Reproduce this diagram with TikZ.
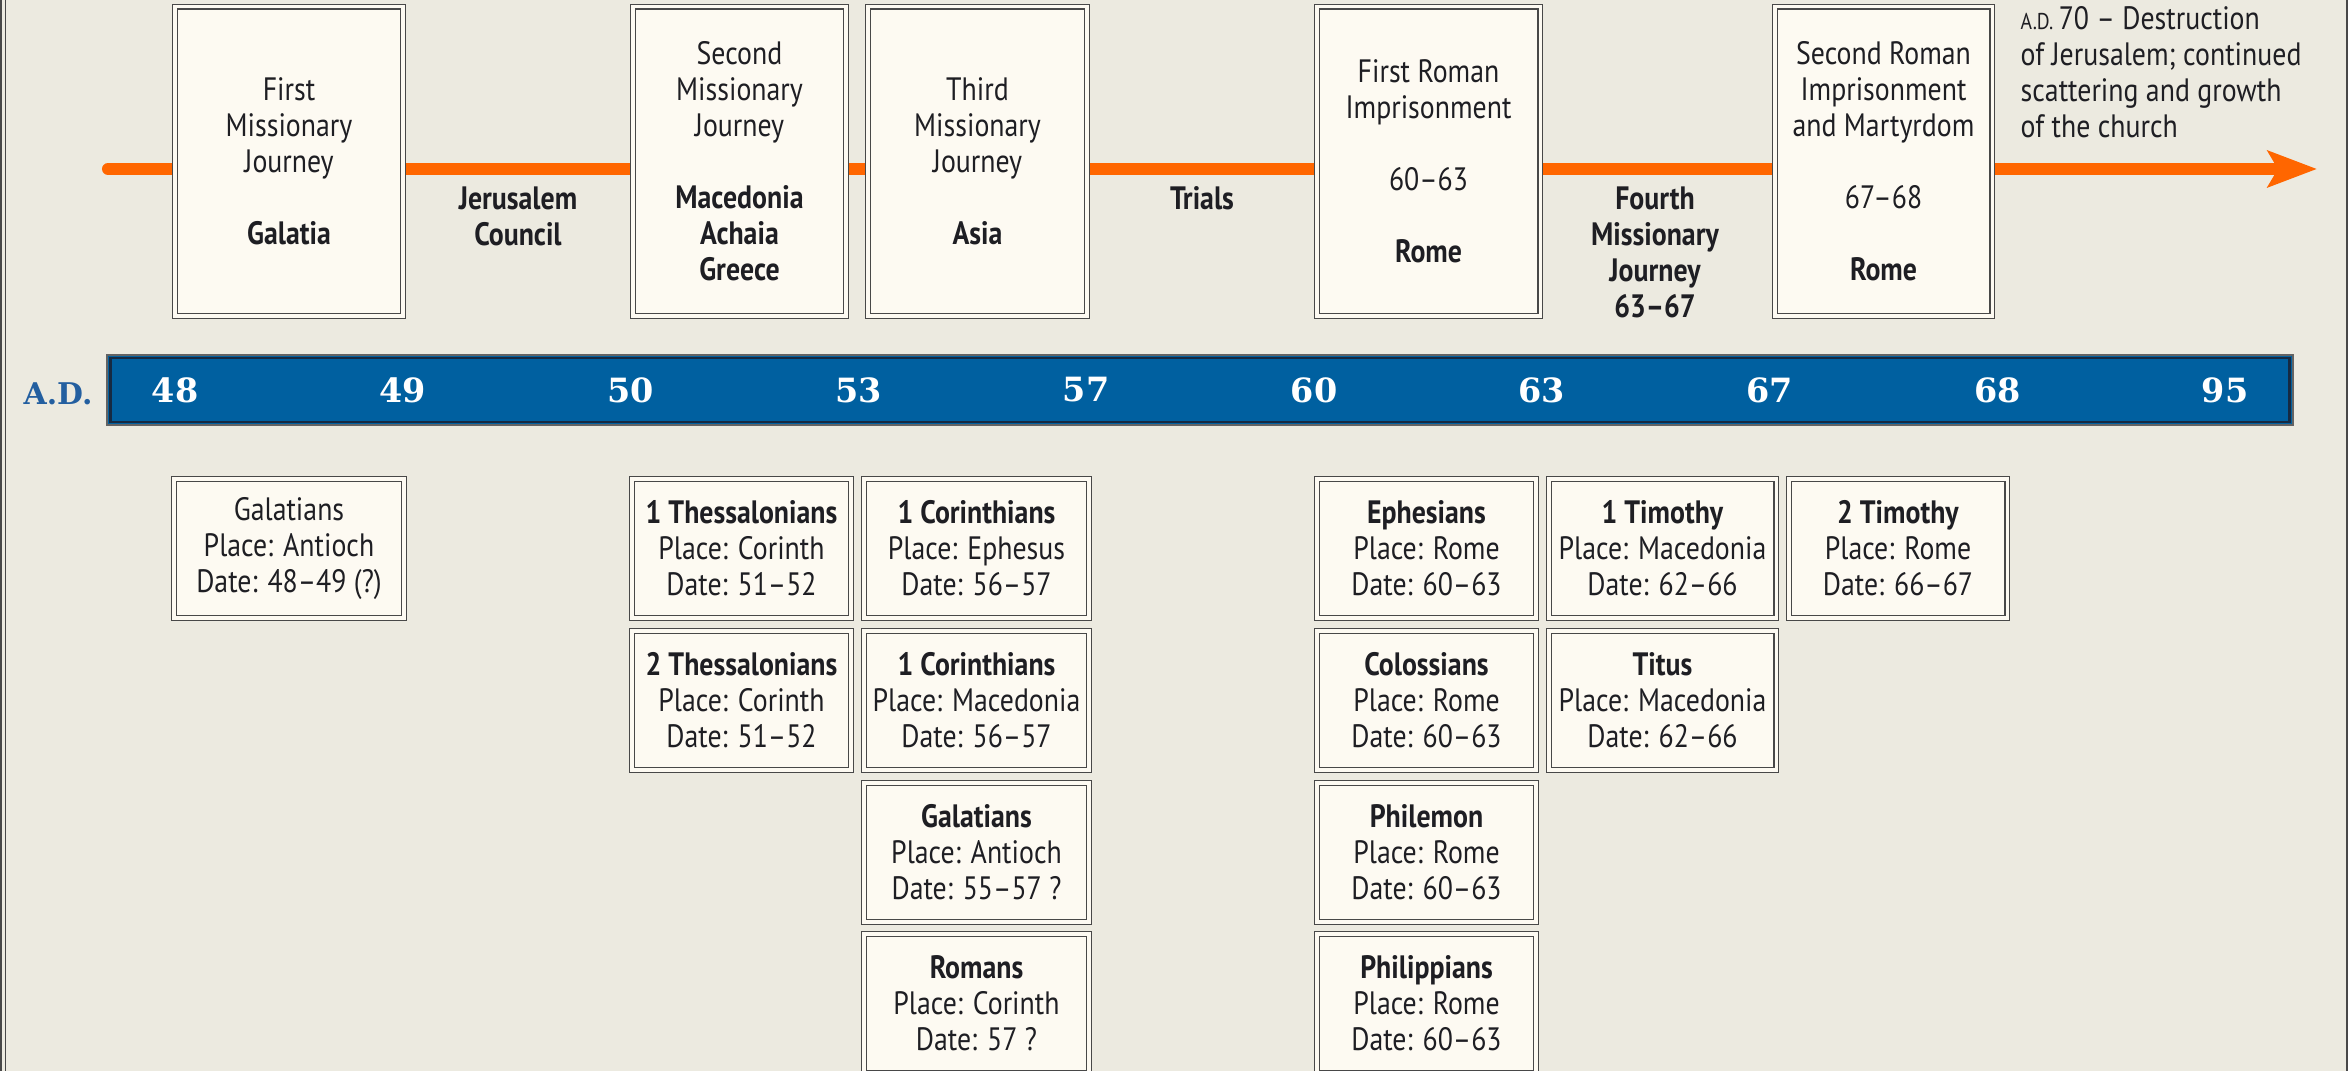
\documentclass[tikz,border=0pt]{standalone}
\usepackage{fontspec}
\setmainfont{PT Sans}[FakeStretch=0.86]
\newfontfamily\yearfont{DejaVu Serif}
\usetikzlibrary{arrows.meta}
\definecolor{paper}{RGB}{236,234,224}
\definecolor{cream}{RGB}{253,250,242}
\definecolor{frame}{RGB}{72,72,72}
\definecolor{ink}{RGB}{30,30,35}
\definecolor{route}{RGB}{255,102,0}
\definecolor{barblue}{RGB}{0,96,160}
\definecolor{barnavy}{RGB}{22,42,66}
\definecolor{adblue}{RGB}{35,95,160}
\newcommand{\boxfont}{\fontsize{9.2}{10.24}\selectfont}
\newcommand{\gap}{\\[10.24pt]}

\begin{document}
\begin{tikzpicture}[x=0.01cm,y=-0.01cm,text=ink]
	\tikzstyle{panel}=[draw=frame,line width=0.4pt,double=cream,double distance=0.9pt,fill=cream,align=center,inner sep=0pt,font=\boxfont];
	\tikzstyle{stage}=[panel,minimum height=3.09cm];
	\tikzstyle{letter}=[panel,minimum height=1.39cm];
	\tikzstyle{event}=[align=center,font=\boxfont\bfseries];
	\tikzstyle{year}=[text=white,font=\yearfont\bfseries\fontsize{9.5}{11}\selectfont];

	\useasboundingbox[fill=paper] (0,0) rectangle (2348,1071);
	\draw[frame,line width=0.55pt,double=paper,double distance=0.7pt] (3.3,-10) -- (3.3,1090);
	\draw[frame,line width=0.6pt] (2347,-10) -- (2347,1090);

	\coordinate (start) at (108,169);
	\coordinate (end) at (2317,169);
	\draw[route,line width=0.12cm,line cap=round,-{Stealth[length=0.49cm,width=0.36cm,inset=0.1cm]}] (start) -- (end);

	\node[stage,minimum width=2.28cm] (j1) at (289,161.5) {First\\Missionary\\Journey\gap\textbf{Galatia}};
	\node[stage,minimum width=2.13cm] (j2) at (739.5,161.5) {Second\\Missionary\\Journey\gap\textbf{Macedonia}\\\textbf{Achaia}\\\textbf{Greece}};
	\node[stage,minimum width=2.19cm] (j3) at (977.5,161.5) {Third\\Missionary\\Journey\gap\textbf{Asia}};
	\node[stage,minimum width=2.23cm] (rome1) at (1428.5,161.5) {First Roman\\Imprisonment\gap 60--63\gap\textbf{Rome}};
	\node[stage,minimum width=2.17cm] (rome2) at (1883.5,161.5) {Second Roman\\Imprisonment\\and Martyrdom\gap 67--68\gap\textbf{Rome}};

	\node[event] (council) at (518,216.5) {Jerusalem\\Council};
	\node[event] (trials) at (1202,198) {Trials};
	\node[event] (fourth) at (1655,252.5) {Fourth\\Missionary\\Journey\\63--67};
	\node[align=left,anchor=west,inner sep=0pt,font=\boxfont] (fall) at (2020,72) {{\fontsize{6.5}{8}\selectfont A.D.}\,70 -- Destruction\\of Jerusalem; continued\\scattering and growth\\of the church};

	\node[draw=frame!85,line width=0.6pt,fill=barblue,minimum width=21.84cm,minimum height=0.70cm,inner sep=0pt] (yearbar) at (1200,390) {};
	\draw[barnavy,line width=0.8pt] ([shift={(4,4)}]yearbar.north west) rectangle ([shift={(-4,-4)}]yearbar.south east);
	\node[text=adblue,font=\yearfont\bfseries\fontsize{8.5}{10}\selectfont] (ad) at (58,394) {A.D.};
	\foreach \yr [count=\i from 0] in {48,49,50,53,57,60,63,67,68,95}
		\node[year] (y\yr) at ({175+227.8*\i},390) {\yr};

	\node[letter,minimum width=2.30cm] (gal1) at (289,548.5) {Galatians\\Place: Antioch\\Date: 48--49 (?)};
	\node[letter,minimum width=2.19cm] (thess1) at (741.5,548.5) {\textbf{1 Thessalonians}\\Place: Corinth\\Date: 51--52};
	\node[letter,minimum width=2.19cm] (thess2) at (741.5,700.5) {\textbf{2 Thessalonians}\\Place: Corinth\\Date: 51--52};
	\node[letter,minimum width=2.25cm] (cor1) at (976.5,548.5) {\textbf{1 Corinthians}\\Place: Ephesus\\Date: 56--57};
	\node[letter,minimum width=2.25cm] (cor2) at (976.5,700.5) {\textbf{1 Corinthians}\\Place: Macedonia\\Date: 56--57};
	\node[letter,minimum width=2.25cm] (gal2) at (976.5,852.5) {\textbf{Galatians}\\Place: Antioch\\Date: 55--57 ?};
	\node[letter,minimum width=2.25cm] (rom) at (976.5,1003.5) {\textbf{Romans}\\Place: Corinth\\Date: 57 ?};
	\node[letter,minimum width=2.19cm] (eph) at (1426.5,548.5) {\textbf{Ephesians}\\Place: Rome\\Date: 60--63};
	\node[letter,minimum width=2.19cm] (col) at (1426.5,700.5) {\textbf{Colossians}\\Place: Rome\\Date: 60--63};
	\node[letter,minimum width=2.19cm] (phm) at (1426.5,852.5) {\textbf{Philemon}\\Place: Rome\\Date: 60--63};
	\node[letter,minimum width=2.19cm] (php) at (1426.5,1003.5) {\textbf{Philippians}\\Place: Rome\\Date: 60--63};
	\node[letter,minimum width=2.27cm] (tim1) at (1662.5,548.5) {\textbf{1 Timothy}\\Place: Macedonia\\Date: 62--66};
	\node[letter,minimum width=2.27cm] (titus) at (1662.5,700.5) {\textbf{Titus}\\Place: Macedonia\\Date: 62--66};
	\node[letter,minimum width=2.18cm] (tim2) at (1898,548.5) {\textbf{2 Timothy}\\Place: Rome\\Date: 66--67};
\end{tikzpicture}
\end{document}
